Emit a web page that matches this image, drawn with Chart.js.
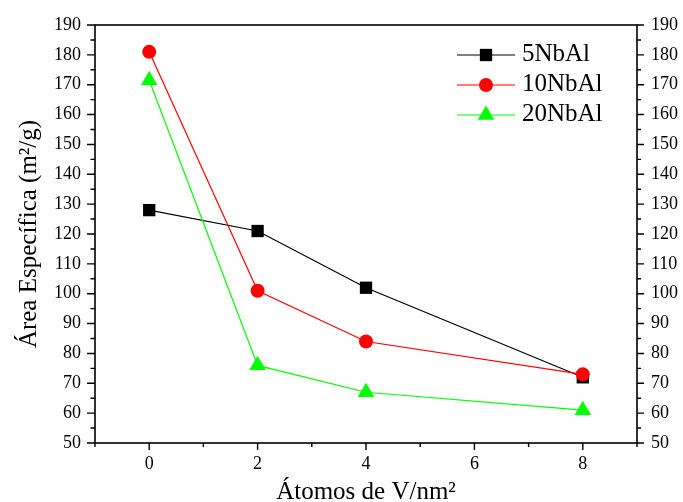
<!DOCTYPE html>
<html>
<head>
<meta charset="utf-8">
<script src="https://cdn.jsdelivr.net/npm/chart.js@4/dist/chart.umd.min.js"></script>
<style>
html,body{margin:0;padding:0;background:#fff;}
#c{display:block;}
</style>
</head>
<body>
<canvas id="c" width="683" height="502"></canvas>
<script>
// ---- data ----
const xValues = [0, 2, 4, 8];
const seriesNames = ['5NbAl', '10NbAl', '20NbAl'];
const nb5  = [128, 121, 102, 72];
const nb10 = [181, 101, 84, 73];
const nb20 = [171.5, 76, 67, 61];
const xTickValues = [0, 2, 4, 6, 8];
const yTickValues = [50, 60, 70, 80, 90, 100, 110, 120, 130, 140, 150, 160, 170, 180, 190];
const xTitle = 'Átomos de V/nm²';
const yTitle = 'Área Específica (m²/g)';
const xMin = -1, xMax = 9;
const yMin = 50, yMax = 190;

const FONT = "'Liberation Serif', 'Times New Roman', serif";

function pts(arr){ return xValues.map((x,i)=>({x:x, y:arr[i]})); }

const styles = [
  {color:'#000000', shape:'rect', r:8.7},
  {color:'#ff0000', shape:'circle', r:7},
  {color:'#00ff00', shape:'triangle', r:9.5}
];
const allSeries = [nb5, nb10, nb20];

const datasets = allSeries.map((s,i)=>({
  label: seriesNames[i],
  data: pts(s),
  borderColor: styles[i].color,
  backgroundColor: styles[i].color,
  borderWidth: 1.2,
  pointStyle: styles[i].shape,
  pointRadius: styles[i].r,
  pointHoverRadius: styles[i].r,
  pointBorderWidth: 0,
  pointBackgroundColor: styles[i].color,
  pointBorderColor: styles[i].color,
  tension: 0,
  order: 3 - i,
  clip: false
}));

function drawMarker(ctx, shape, x, y, r, color){
  ctx.save();
  ctx.fillStyle = color;
  ctx.beginPath();
  if (shape === 'rect') {
    const s = Math.SQRT1_2 * r;
    ctx.rect(x - s, y - s, 2*s, 2*s);
  } else if (shape === 'circle') {
    ctx.arc(x, y, r, 0, Math.PI*2);
  } else {
    let rad = 0;
    ctx.moveTo(x + Math.sin(rad)*r, y - Math.cos(rad)*r);
    rad += 2*Math.PI/3;
    ctx.lineTo(x + Math.sin(rad)*r, y - Math.cos(rad)*r);
    rad += 2*Math.PI/3;
    ctx.lineTo(x + Math.sin(rad)*r, y - Math.cos(rad)*r);
    ctx.closePath();
  }
  ctx.fill();
  ctx.restore();
}

const framePlugin = {
  id: 'frame',
  beforeDatasetsDraw(chart){
    const {ctx, chartArea:{left,right,top,bottom}, scales:{x,y}} = chart;
    ctx.save();
    ctx.strokeStyle = '#000';
    ctx.lineWidth = 1.6;
    ctx.strokeRect(left, top, right-left, bottom-top);
    ctx.lineWidth = 1.4;
    ctx.beginPath();
    const yStep = yTickValues[1] - yTickValues[0];
    for (let v = yMin; v <= yMax; v += yStep/2) {
      const p = y.getPixelForValue(v);
      const major = yTickValues.includes(v);
      ctx.moveTo(left, p); ctx.lineTo(left - (major ? 8 : 4.5), p);
      ctx.moveTo(right, p); ctx.lineTo(right + (major ? 7 : 4), p);
    }
    const xStep = xTickValues[1] - xTickValues[0];
    for (let v = xMin; v <= xMax; v += xStep/2) {
      const p = x.getPixelForValue(v);
      const major = xTickValues.includes(v);
      ctx.moveTo(p, bottom); ctx.lineTo(p, bottom + (major ? 7 : 4));
    }
    ctx.stroke();
    ctx.restore();
  }
};

const legendPlugin = {
  id: 'customLegend',
  afterDatasetsDraw(chart){
    const ctx = chart.ctx;
    const x0 = 457, x1 = 515, xm = 486, xt = 522;
    const rows = [55, 85, 115];
    chart.data.datasets.forEach((ds, i) => {
      const yy = rows[i];
      ctx.save();
      ctx.strokeStyle = ds.borderColor;
      ctx.lineWidth = 1.2;
      ctx.beginPath();
      ctx.moveTo(x0, yy); ctx.lineTo(x1, yy);
      ctx.stroke();
      ctx.restore();
      drawMarker(ctx, ds.pointStyle, xm, yy, ds.pointRadius, ds.pointBackgroundColor);
      ctx.save();
      ctx.fillStyle = '#000';
      ctx.font = "25px " + FONT;
      ctx.textAlign = 'left';
      ctx.textBaseline = 'middle';
      ctx.fillText(ds.label, xt, yy - 1);
      ctx.restore();
    });
  }
};

function fixedTicks(values){
  return function(scale){ scale.ticks = values.map(v => ({value: v})); };
}

new Chart(document.getElementById('c'), {
  type: 'line',
  data: { datasets },
  plugins: [framePlugin, legendPlugin],
  options: {
    responsive: false,
    animation: false,
    devicePixelRatio: 1,
    layout: { padding: { top: 25, left: 0, right: 0, bottom: 0 } },
    plugins: { legend: { display: false }, tooltip: { enabled: false } },
    scales: {
      x: {
        type: 'linear', position: 'bottom', min: xMin, max: xMax,
        afterBuildTicks: fixedTicks(xTickValues),
        grid: { display: false, drawTicks: false },
        border: { display: false },
        ticks: { color: '#000', font: { family: FONT, size: 18 }, padding: 10.6, maxRotation: 0, autoSkip: false },
        title: { display: true, text: xTitle, color: '#000', font: { family: FONT, size: 25, lineHeight: 0.74 }, padding: { top: 0, bottom: 0 } },
        afterFit(s){ s.height = 59; }
      },
      y: {
        type: 'linear', position: 'left', min: yMin, max: yMax,
        afterBuildTicks: fixedTicks(yTickValues),
        grid: { display: false, drawTicks: false },
        border: { display: false },
        ticks: { color: '#000', font: { family: FONT, size: 18 }, padding: 14, autoSkip: false },
        title: { display: true, text: yTitle, color: '#000', font: { family: FONT, size: 25, lineHeight: 0.74 }, padding: { top: 20.5, bottom: 0 } },
        afterFit(s){ s.width = 95; }
      },
      y2: {
        type: 'linear', position: 'right', min: yMin, max: yMax,
        afterBuildTicks: fixedTicks(yTickValues),
        grid: { display: false, drawTicks: false },
        border: { display: false },
        ticks: { color: '#000', font: { family: FONT, size: 18 }, padding: 14, autoSkip: false },
        afterFit(s){ s.width = 46; }
      }
    }
  }
});
</script>
</body>
</html>
